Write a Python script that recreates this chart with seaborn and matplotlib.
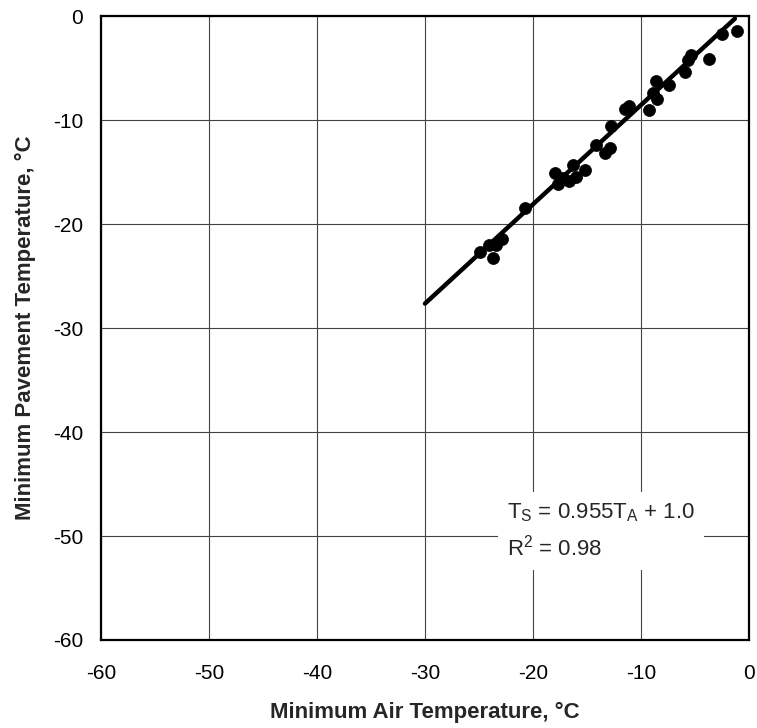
import matplotlib
matplotlib.use("Agg")
import matplotlib.pyplot as plt
import seaborn as sns
import numpy as np
from matplotlib.ticker import MultipleLocator

# measured minimum temperatures, deg C
air_temp = [-1.1, -2.5, -3.7, -5.4, -5.6, -5.9, -7.4, -8.6, -8.9, -8.5, -9.3,
            -11.5, -11.1, -12.8, -14.2, -12.9, -13.3, -16.3, -15.2, -16.0,
            -16.7, -18.0, -17.7, -17.2, -20.7, -22.9, -23.4, -24.1, -24.9,
            -23.7]
pave_temp = [-1.4, -1.7, -4.1, -3.75, -4.2, -5.4, -6.6, -6.25, -7.4, -8.0, -9.0,
             -8.9, -8.6, -10.6, -12.4, -12.7, -13.2, -14.3, -14.8, -15.5,
             -15.9, -15.1, -16.1, -15.6, -18.5, -21.4, -22.0, -22.0, -22.7,
             -23.3]

# regression T_S = 0.955 T_A + 1.0
slope = 0.955
intercept = 1.0
fit_x = np.array([-30.0, -1.3])
fit_y = slope * fit_x + intercept

sns.set_style("white")
plt.rcParams['font.family'] = ['Liberation Sans', 'DejaVu Sans']
plt.rcParams['mathtext.fontset'] = 'custom'
plt.rcParams['mathtext.rm'] = 'Liberation Sans'
plt.rcParams['mathtext.it'] = 'Liberation Sans:italic'
plt.rcParams['axes.unicode_minus'] = False

fig = plt.figure(figsize=(7.57, 7.28), dpi=100)
ax = fig.add_axes([0.1334, 0.1209, 0.856, 0.857])

sns.scatterplot(x=air_temp, y=pave_temp, ax=ax, color='black', s=75,
                edgecolor='black', linewidth=0.5, zorder=4)
sns.lineplot(x=fit_x, y=fit_y, ax=ax, color='black', linewidth=3.2, zorder=3)

ax.set_xlim(-60, 0)
ax.set_ylim(-60, 0)
ax.xaxis.set_major_locator(MultipleLocator(10))
ax.yaxis.set_major_locator(MultipleLocator(10))
ax.xaxis.set_minor_locator(MultipleLocator(5))
ax.yaxis.set_minor_locator(MultipleLocator(5))
ax.grid(True, which='major', color='#444444', linewidth=0.8)
ax.set_axisbelow(True)
ax.tick_params(which='major', direction='in', length=6, width=1.2,
               labelsize=15, pad=13, colors='black')
ax.tick_params(axis='x', which='major', pad=17)
ax.tick_params(which='minor', direction='in', length=5, width=1.2)

for sp in ax.spines.values():
    sp.set_color('black')
    sp.set_linewidth(1.6)

ax.set_xlabel('Minimum Air Temperature, °C', fontsize=16, fontweight='bold',
              labelpad=14)
ax.set_ylabel('Minimum Pavement Temperature, °C', fontsize=16,
              fontweight='bold', labelpad=12)

# va='baseline' on multi-line text anchors the last line
ax.text(-22.4, -51.9,
        r'T$_\mathrm{S}$ = 0.955T$_\mathrm{A}$ + 1.0' + '\n' + r'R$^\mathrm{2}$ = 0.98',
        fontsize=16, ha='left', va='baseline', linespacing=1.5, zorder=5,
        bbox=dict(boxstyle='square,pad=0.4', facecolor='white',
                  edgecolor='none'))

fig.savefig('out.png', dpi=100)
